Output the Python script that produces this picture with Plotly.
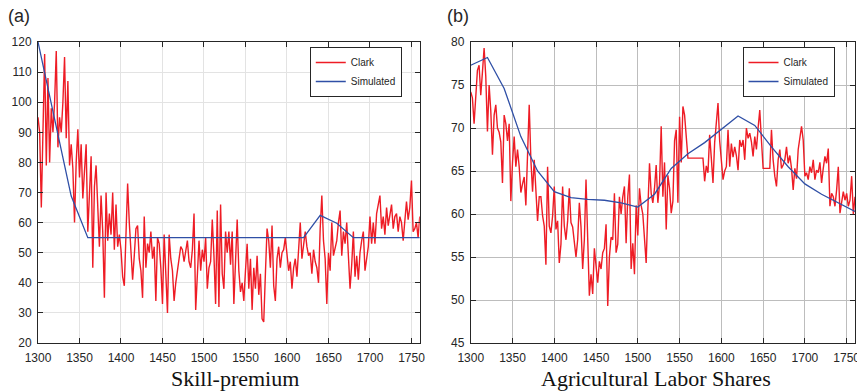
import plotly.graph_objects as go

years = list(range(1300, 1761, 2))

skill_clark = [
    95, 90, 65, 95, 116, 79, 108, 80, 98, 90,
    100, 117, 85, 95, 90, 100, 115, 88, 107, 79,
    86, 78, 60, 80, 91, 75, 86, 68, 78, 86,
    57, 72, 82, 45, 72, 79, 62, 52, 69, 57,
    35, 70, 54, 63, 56, 70, 51, 66, 52, 56,
    51, 42, 39, 55, 73, 60, 51, 41, 49, 58,
    59, 48, 44, 35, 62, 45, 53, 50, 57, 48,
    52, 34, 55, 53, 45, 33, 56, 42, 30, 56,
    48, 44, 34, 40, 45, 48, 52, 51, 47, 50,
    54, 47, 45, 51, 63, 31, 45, 54, 44, 51,
    47, 55, 38, 45, 47, 61, 49, 33, 64, 32,
    66, 43, 38, 57, 50, 57, 46, 57, 33, 46,
    61, 44, 37, 40, 34, 44, 53, 38, 48, 31,
    45, 38, 49, 36, 43, 28, 27, 43, 58, 54,
    45, 59, 39, 34, 48, 52, 45, 50, 51, 55,
    50, 44, 47, 38, 45, 48, 42, 50, 60, 48,
    53, 57, 52, 49, 50, 43, 51, 47, 45, 40,
    58, 69, 54, 48, 33, 50, 44, 60, 49, 52,
    54, 60, 64, 49, 57, 53, 60, 49, 38, 46,
    57, 42, 49, 41, 50, 54, 57, 44, 49, 52,
    62, 53, 60, 53, 63, 66, 69, 58, 62, 56,
    65, 59, 63, 66, 58, 62, 63, 57, 62, 60,
    54, 62, 67, 61, 65, 74, 57, 58, 60, 55,
    62,
]

skill_sim_years = [1300, 1320, 1340, 1360, 1380, 1400, 1420, 1440, 1460, 1480, 1500,
                   1520, 1540, 1560, 1580, 1600, 1620, 1640, 1660, 1680, 1700, 1720,
                   1740, 1760]
skill_sim = [120, 94.5, 68.8, 55, 55, 55, 55, 55, 55, 55, 55,
             55, 55, 55, 55, 55, 55, 62.4, 59.8, 55, 55, 55, 55, 55]

agri_clark = [
    74.2, 73.5, 70.5, 74, 76.7, 77.3, 73.8, 76.5, 79.3, 76,
    69.6, 75, 72, 66.9, 71.5, 72.7, 70, 69.5, 68.4, 63.6,
    71.5, 70.5, 68.5, 70.5, 61.5, 66, 69, 65.5, 67.5, 65.5,
    62.5, 63.5, 64.3, 61, 66, 72.7, 66.3, 62.6, 66.3, 62.6,
    59.2, 62, 62, 59.8, 58.6, 54.1, 65.5, 58.6, 57.8, 59.8,
    63.2, 58.2, 59.2, 54.3, 56.5, 63.2, 58.6, 57, 59.2, 63,
    59, 58.5, 57, 55, 57, 61.3, 58.5, 53.6, 57, 64,
    57.2, 50.5, 53, 50.7, 56, 53.6, 52, 54.5, 53.6, 55.5,
    56, 58.8, 49.3, 55, 57.3, 57, 62.4, 55.5, 56.5, 62,
    60, 62, 63.2, 56.6, 62, 64.6, 53.6, 56.6, 53, 61,
    57.5, 63, 61, 60, 57.5, 54.3, 60.5, 65.9, 62.4, 61.3,
    63, 65.7, 61.3, 63.5, 70.2, 62, 66, 58.2, 64.5, 63,
    60.1, 61.5, 68.5, 69.8, 61.3, 71.3, 66, 72.5, 71.5, 69,
    66.5, 66.5, 66.5, 66.5, 66.5, 66.5, 66.5, 66.5, 66.5, 66.5,
    63.8, 65.6, 64.8, 69.2, 66.5, 63.6, 68.3, 71, 72.9, 68.5,
    65.9, 64, 65, 65.5, 69.8, 65.5, 68.2, 66.6, 67.8, 66.8,
    65.1, 68.6, 67.8, 68.6, 66.3, 70, 68.8, 69.4, 68.4, 66.7,
    69, 67.5, 70, 72.1, 68.6, 65.3, 65.3, 65.3, 65.3, 65.3,
    69.8, 66.3, 64.4, 63.2, 66.3, 67.5, 65.3, 65.7, 66.3, 67.8,
    65.9, 66.8, 65.3, 62.8, 65.3, 64.1, 67.5, 68.6, 70.2, 68.6,
    64.4, 64.8, 64, 65.5, 64.8, 66.3, 64, 65.1, 64.8, 66,
    63.6, 65.3, 66.7, 65.9, 67.6, 60.9, 62.4, 62, 60.9, 62.8,
    65.5, 60.1, 61.6, 62.6, 61.6, 62.4, 60.9, 61.6, 64.4, 60,
    62,
]

agri_sim_years = [1300, 1320, 1340, 1360, 1380, 1400, 1420, 1440, 1460, 1480, 1500,
                  1520, 1540, 1560, 1580, 1600, 1620, 1640, 1660, 1680, 1700, 1720,
                  1740, 1760]
agri_sim = [77.3, 78.2, 74.6, 69.0, 65.0, 62.6, 61.9, 61.7, 61.6, 61.3, 60.8,
            62.3, 65.3, 67.0, 68.3, 69.8, 71.4, 70.3, 67.8, 65.5, 63.5, 62.3,
            61.3, 60.3]

x_ticks = [1300, 1350, 1400, 1450, 1500, 1550, 1600, 1650, 1700, 1750]
skill_yticks = [20, 30, 40, 50, 60, 70, 80, 90, 100, 110, 120]
agri_yticks = [45, 50, 55, 60, 65, 70, 75, 80]

RED = "#ee1c25"
BLUE = "#2f4fa6"
AX = "#262626"

fig = go.Figure()
fig.add_trace(go.Scatter(x=years, y=skill_clark, mode="lines", name="Clark",
                         line=dict(color=RED, width=1.4), xaxis="x", yaxis="y", legend="legend"))
fig.add_trace(go.Scatter(x=skill_sim_years, y=skill_sim, mode="lines", name="Simulated",
                         line=dict(color=BLUE, width=1.3), xaxis="x", yaxis="y", legend="legend"))
fig.add_trace(go.Scatter(x=years, y=agri_clark, mode="lines", name="Clark",
                         line=dict(color=RED, width=1.4), xaxis="x2", yaxis="y2", legend="legend2"))
fig.add_trace(go.Scatter(x=agri_sim_years, y=agri_sim, mode="lines", name="Simulated",
                         line=dict(color=BLUE, width=1.3), xaxis="x2", yaxis="y2", legend="legend2"))

W, H = 857, 391
ML, MR, MT, MB = 38, 1.5, 42, 48
PW = W - ML - MR
PH = H - MT - MB

def px_x(p):
    return (p - ML) / PW

def px_y(p):
    return 1 - (p - MT) / PH

TICKFONT = dict(family="Liberation Sans, Arial", size=12, color=AX)

def xax(domain, anchor, gridcolor):
    return dict(domain=domain, anchor=anchor, range=[1300, 1760], tickvals=x_ticks,
                ticks="inside", ticklen=5, tickcolor=AX, showline=True, linecolor=AX,
                linewidth=1, mirror="ticks", showgrid=True, gridcolor=gridcolor,
                gridwidth=1, zeroline=False, automargin=False, ticklabelstandoff=4,
                ticklabeloverflow="allow", tickfont=TICKFONT)

def yax(anchor, rng, tv, gridcolor):
    return dict(domain=[0, 1], anchor=anchor, range=rng, tickvals=tv,
                ticks="inside", ticklen=5, tickcolor=AX, showline=True, linecolor=AX,
                linewidth=1, mirror="ticks", showgrid=True, gridcolor=gridcolor,
                gridwidth=1, zeroline=False, automargin=False, ticklabelstandoff=3,
                ticklabeloverflow="allow", tickfont=TICKFONT)

legend_common = dict(bgcolor="white", bordercolor=AX, borderwidth=1,
                     font=dict(family="Liberation Sans, Arial", size=10, color=AX),
                     xanchor="right", yanchor="top", tracegroupgap=0,
                     itemwidth=30, xref="paper", yref="paper")

fig.update_layout(
    width=W, height=H,
    margin=dict(l=ML, r=MR, t=MT, b=MB, pad=0, autoexpand=False),
    paper_bgcolor="white", plot_bgcolor="white",
    xaxis=xax([0, px_x(420)], "y", "#e3e3e3"),
    yaxis=yax("x", [20, 120], skill_yticks, "#e3e3e3"),
    xaxis2=xax([px_x(471), 1], "y2", "#bdbdbd"),
    yaxis2=yax("x2", [45, 80], agri_yticks, "#bdbdbd"),
    legend=dict(x=px_x(402), y=px_y(47), **legend_common),
    legend2=dict(x=px_x(835), y=px_y(47), **legend_common),
    showlegend=True,
    annotations=[
        dict(text="(a)", x=px_x(19), y=px_y(16), xref="paper", yref="paper",
             showarrow=False, xanchor="center", yanchor="middle",
             font=dict(family="Liberation Sans, Arial", size=18, color=AX)),
        dict(text="(b)", x=px_x(458), y=px_y(16), xref="paper", yref="paper",
             showarrow=False, xanchor="center", yanchor="middle",
             font=dict(family="Liberation Sans, Arial", size=18, color=AX)),
        dict(text="Skill-premium", x=px_x(235), y=px_y(378), xref="paper", yref="paper",
             showarrow=False, xanchor="center", yanchor="middle",
             font=dict(family="Liberation Serif, DejaVu Serif, serif", size=22, color="#111111")),
        dict(text="Agricultural Labor Shares", x=px_x(656), y=px_y(378), xref="paper", yref="paper",
             showarrow=False, xanchor="center", yanchor="middle",
             font=dict(family="Liberation Serif, DejaVu Serif, serif", size=22, color="#111111")),
    ],
)

fig.write_html("out.html")
